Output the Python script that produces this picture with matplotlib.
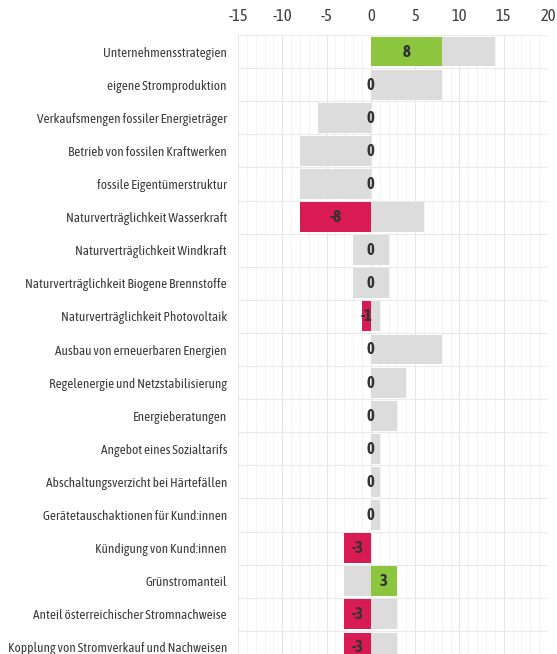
#!/usr/bin/env python3
"""Horizontal score chart: achieved points per criterion over the possible range."""

import matplotlib.pyplot as plt
from matplotlib import font_manager
from matplotlib.ticker import MultipleLocator

categories = [
    "Unternehmensstrategien",
    "eigene Stromproduktion",
    "Verkaufsmengen fossiler Energieträger",
    "Betrieb von fossilen Kraftwerken",
    "fossile Eigentümerstruktur",
    "Naturverträglichkeit Wasserkraft",
    "Naturverträglichkeit Windkraft",
    "Naturverträglichkeit Biogene Brennstoffe",
    "Naturverträglichkeit Photovoltaik",
    "Ausbau von erneuerbaren Energien",
    "Regelenergie und Netzstabilisierung",
    "Energieberatungen",
    "Angebot eines Sozialtarifs",
    "Abschaltungsverzicht bei Härtefällen",
    "Gerätetauschaktionen für Kund:innen",
    "Kündigung von Kund:innen",
    "Grünstromanteil",
    "Anteil österreichischer Stromnachweise",
    "Kopplung von Stromverkauf und Nachweisen",
]
# possible range (min / max points) per criterion
range_min = [0, 0, -6, -8, -8, -8, -2, -2, 0, 0, 0, 0, 0, 0, 0, -3, -3, 0, 0]
range_max = [14, 8, 0, 0, 0, 6, 2, 2, 1, 8, 4, 3, 1, 1, 1, 0, 0, 3, 3]
# achieved points
scores = [8, 0, 0, 0, 0, -8, 0, 0, -1, 0, 0, 0, 0, 0, 0, -3, 3, -3, -3]

x_ticks = [-15, -10, -5, 0, 5, 10, 15, 20]

GREEN = "#8cc63e"
RED = "#d81b52"
GREY = "#dcdcdc"
TEXT = "#3c3c3c"


def pick_narrow_family():
    """Prefer a condensed/narrow face, ideally one that also ships a bold cut."""
    narrow = {}
    for f in font_manager.fontManager.ttflist:
        if any(k in f.name for k in ("Condensed", "Narrow")):
            w = f.weight if isinstance(f.weight, int) else 400
            narrow.setdefault(f.name, set()).add(w)
    if not narrow:
        return "Liberation Sans", False
    for name, weights in sorted(narrow.items()):
        if max(weights) >= 600:
            return name, True
    return sorted(narrow)[0], False


family, has_bold = pick_narrow_family()
plt.rcParams["font.family"] = [family, "DejaVu Sans"]
plt.rcParams["axes.unicode_minus"] = False

W, H = 557, 654
fig = plt.figure(figsize=(W / 100, H / 100), dpi=100)
ax = fig.add_axes([238 / W, -10 / H, 310 / W, 629 / H])

n = len(categories)
ys = list(range(n))

ax.barh(ys, [hi - lo for lo, hi in zip(range_min, range_max)], left=range_min,
        height=0.9, color=GREY, zorder=2)
colors = [GREEN if v > 0 else RED for v in scores]
ax.barh(ys, scores, height=0.9, color=colors, zorder=3)

for y, v in zip(ys, scores):
    ax.text(v / 2, y, f"{v}", ha="center", va="center", fontsize=12,
            fontweight="bold" if has_bold else "normal", color="#333333", zorder=4)

ax.set_xlim(-15, 20)
ax.set_ylim(n - 0.5, -0.5)
ax.set_xticks(x_ticks)
ax.xaxis.set_minor_locator(MultipleLocator(1))
ax.xaxis.tick_top()
ax.tick_params(axis="x", which="both", length=0, pad=7, labelsize=12, labelcolor=TEXT)
ax.set_yticks(ys)
ax.set_yticklabels(categories, fontsize=11, color=TEXT)
ax.tick_params(axis="y", which="both", length=0, pad=8)

# row separators between categories
ax.set_yticks([y + 0.5 for y in range(-1, n)], minor=True)
ax.grid(axis="y", which="minor", color="#eaeaea", linewidth=0.8, zorder=0)
ax.grid(axis="x", which="major", color="#e6e6e6", linewidth=0.8, zorder=0)
ax.grid(axis="x", which="minor", color="#f3f3f3", linewidth=0.6, zorder=0)
ax.set_axisbelow(True)
for side in ax.spines.values():
    side.set_visible(False)

# shrink the category labels until the longest one fits left of the axes
renderer = fig.canvas.get_renderer()
labels = ax.get_yticklabels()
size = 11.0
while size > 6:
    widest = max(t.get_window_extent(renderer).width for t in labels)
    if widest <= 222:
        break
    size -= 0.25
    for t in labels:
        t.set_fontsize(size)

fig.savefig("out.png", dpi=100)
